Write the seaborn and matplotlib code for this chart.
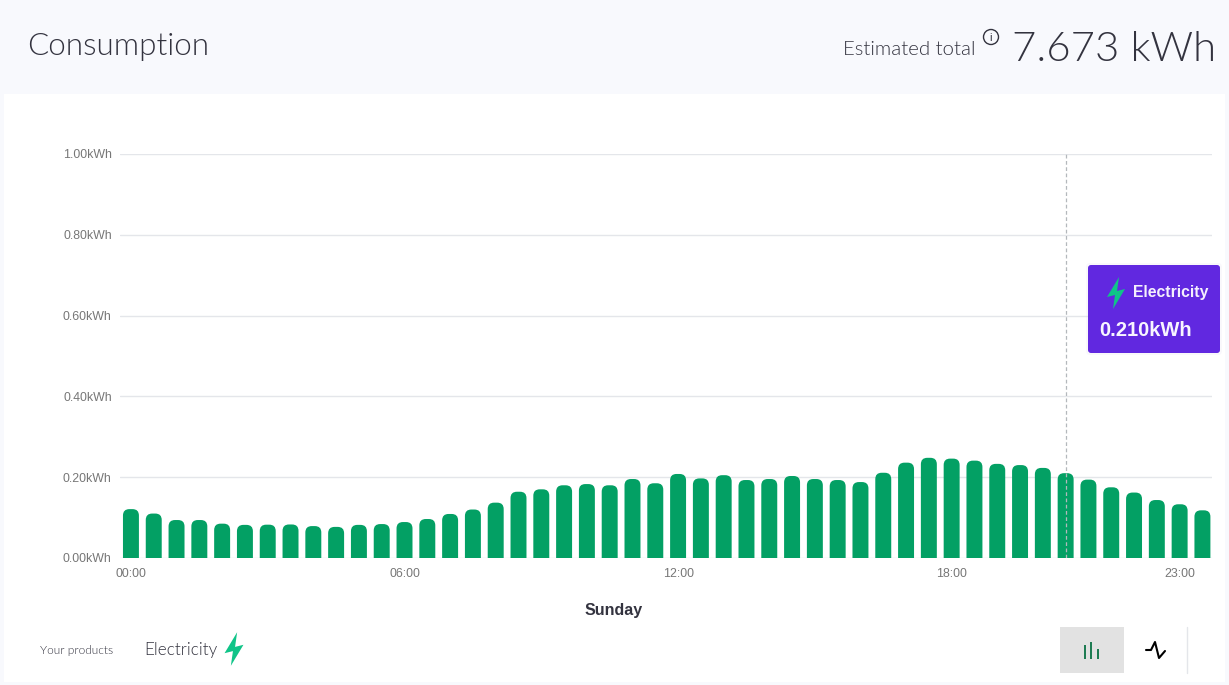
import matplotlib
matplotlib.use("Agg")
import matplotlib.pyplot as plt
from matplotlib.patches import FancyBboxPatch, Polygon, Rectangle
import pandas as pd
import seaborn as sns

W, H = 1229, 685

half_hours = [f"{h:02d}:{m}" for h in range(24) for m in ("00", "30")]
usage_kwh = [
    0.121, 0.110, 0.094, 0.094, 0.085, 0.082, 0.0825, 0.083, 0.079, 0.077, 0.082, 0.084,
    0.089, 0.0965, 0.109, 0.120, 0.137, 0.164, 0.170, 0.180, 0.183, 0.180, 0.1955, 0.185,
    0.208, 0.197, 0.205, 0.193, 0.1955, 0.203, 0.1955, 0.193, 0.188, 0.211, 0.236, 0.248,
    0.246, 0.241, 0.233, 0.230, 0.223, 0.210, 0.194, 0.175, 0.162, 0.1435, 0.133, 0.118,
]
y_ticks = [0.0, 0.2, 0.4, 0.6, 0.8, 1.0]
x_ticks = ["00:00", "06:00", "12:00", "18:00", "23:00"]
hover_slot = "20:30"

GREEN = "#03a064"
BOLT = "#10c488"
PURPLE = "#6128e0"
DARK = "#33333f"
UI_FONT = ["Lato", "DejaVu Sans"]


def pixel_axes(fig, zorder):
    # overlay in screenshot pixels, y pointing down
    pax = fig.add_axes([0, 0, 1, 1], zorder=zorder)
    pax.set_xlim(0, W)
    pax.set_ylim(H, 0)
    pax.axis("off")
    return pax


def bolt(pax, cx, cy, scale, color=BOLT):
    # lightning glyph, outline relative to its centre
    shape = [(3, -16), (-9, 4), (-1, 2), (-3, 16), (9, -4), (1, -2)]
    pts = [(cx + x * scale, cy + y * scale) for x, y in shape]
    pax.add_patch(Polygon(pts, closed=True, facecolor=color, edgecolor="none"))


sns.set_style("white")
plt.rcParams["font.family"] = ["Liberation Sans", "DejaVu Sans"]

fig = plt.figure(figsize=(W / 100, H / 100), dpi=100, facecolor="#f8f9fd")

back = pixel_axes(fig, 0)
back.add_patch(Rectangle((4, 94), 1221, 588, facecolor="white", edgecolor="none"))

ax = fig.add_axes([120 / W, 1 - 558 / H, 1092 / W, 404 / H], zorder=1)
ax.patch.set_alpha(0)

df = pd.DataFrame({"slot": half_hours, "kwh": usage_kwh})
sns.barplot(data=df, x="slot", y="kwh", color=GREEN, saturation=1, width=0.7, ax=ax)

ax.set_xlim(-0.48, 47.42)
ax.set_ylim(0, 1.0)

# swap the square bars for ones with rounded tops
aspect = (1 / 404) / (1 / 22.8)
for bar in list(ax.patches):
    x, w, h = bar.get_x(), bar.get_width(), bar.get_height()
    rad = 0.28
    rounded = FancyBboxPatch(
        (x + rad, -0.05), w - 2 * rad, h + 0.05 - rad * aspect,
        boxstyle=f"round,pad={rad},rounding_size={rad}",
        mutation_aspect=aspect, facecolor=GREEN, edgecolor="none", zorder=2,
    )
    bar.remove()
    ax.add_patch(rounded)

ax.set_axisbelow(True)
ax.yaxis.grid(True, color="#e4e6ea", linewidth=1)
ax.xaxis.grid(False)
sns.despine(ax=ax, left=True, right=True, top=True, bottom=True)
ax.set_yticks(y_ticks, [f"{v:.2f}kWh" for v in y_ticks])
ax.set_xticks([half_hours.index(t) for t in x_ticks], x_ticks)
ax.tick_params(axis="both", length=0, labelsize=8.9, labelcolor="#777777")
ax.tick_params(axis="y", pad=6)
ax.tick_params(axis="x", pad=7)
ax.set_ylabel("")
ax.set_xlabel("Sunday", fontsize=11.5, fontweight="bold", color=DARK, va="center")
ax.xaxis.set_label_coords((614 - 120) / 1092, -(611 - 558) / 404)

ax.axvline(half_hours.index(hover_slot), color="#b4b8bc", linewidth=0.9,
           linestyle=(0, (3, 2)), zorder=3)

top = pixel_axes(fig, 2)
top.text(27, 46, "Consumption", fontsize=22.6, color=DARK, family=UI_FONT, fontweight=300, va="center")
top.text(843, 49, "Estimated total", fontsize=14.7, color=DARK, family=UI_FONT, fontweight=300, va="center")
top.text(1216, 49, "7.673 kWh", fontsize=30.2, color=DARK, family=UI_FONT, fontweight=300, va="center", ha="right")
top.add_patch(plt.Circle((991, 37), 7.5, facecolor="none", edgecolor=DARK, linewidth=1))
top.text(991, 37.5, "i", fontsize=8, color=DARK, ha="center", va="center")

# tooltip
top.add_patch(FancyBboxPatch((1090, 267), 128, 84, boxstyle="round,pad=4,rounding_size=4",
                             facecolor="#d8d4ea", edgecolor="none", alpha=0.15))
top.add_patch(FancyBboxPatch((1090, 267), 128, 84, boxstyle="round,pad=2,rounding_size=3",
                             facecolor=PURPLE, edgecolor="none"))
bolt(top, 1116, 293, 1.0)
top.text(1133, 292, "Electricity", fontsize=11.3, fontweight="bold", color="#f4effd", va="center")
top.text(1099, 330.5, "0.210kWh", fontsize=14.5, fontweight="bold", color="#f8f5ff", va="center")

# footer
top.text(40, 650, "Your products", fontsize=8.6, color=DARK, family=UI_FONT, fontweight=300, va="center")
top.text(144, 650, "Electricity", fontsize=12.4, color=DARK, family=UI_FONT, fontweight=300, va="center")
bolt(top, 234, 649, 1.05)

top.add_patch(Rectangle((1060, 627), 64, 46, facecolor="#e2e2e2", edgecolor="none"))
for x0, y0 in [(1085, 645), (1091, 642), (1098, 649)]:
    top.plot([x0, x0], [y0, 659], color="#1a7a50", linewidth=1.4, solid_capstyle="butt")
top.plot([1146, 1151, 1155, 1159, 1165], [650, 650, 642, 658, 651], color="black", linewidth=1.5)
top.plot([1187, 1187], [627, 673], color="#e4e6ea", linewidth=1)

fig.savefig("out.png", dpi=100, facecolor=fig.get_facecolor())
